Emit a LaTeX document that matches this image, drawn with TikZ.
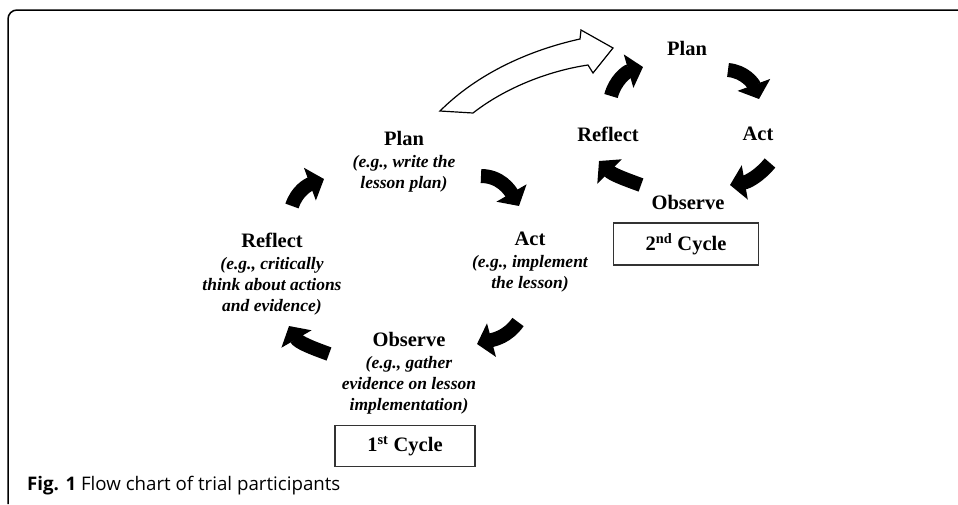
\documentclass[tikz,border=0pt]{standalone}
\usepackage{fontspec}
\setmainfont{Liberation Serif}
\newfontfamily\capfont{Open Sans}
\usetikzlibrary{arrows.meta}
\newcommand\exs{\fontsize{17.5}{21}\selectfont\bfseries\itshape}
\begin{document}
\begin{tikzpicture}[x=1pt,y=1pt,
  lbl/.style={align=center, inner sep=0pt, font=\fontsize{20.5}{21}\selectfont\bfseries},
  blk/.style={line width=14pt, -{Triangle[width=34pt,length=15pt]}},
  cycbox/.style={draw=black!80, line width=1.1pt, minimum width=140pt, minimum height=41pt, inner sep=0pt, font=\fontsize{20.5}{21}\selectfont\bfseries},
  hollow/.style={draw=black, line width=1.2pt, fill=white, line join=miter}
]
\useasboundingbox (0,0) rectangle (958,-504);
% frame
\draw[line width=1.5pt] (8,-504) -- (8,-19) arc[start angle=180,end angle=90,radius=9] -- (958,-10);

% first cycle labels
\node[lbl] (plan1) at (404,-162) {Plan\\[1pt]{\exs (e.g., write the}\\{\exs lesson plan)}};
\node[lbl] (act1) at (530,-262) {Act\\[1pt]{\exs (e.g., implement}\\{\exs the lesson)}};
\node[lbl] (obs1) at (409,-373) {Observe\\[1pt]{\exs (e.g., gather}\\{\exs evidence on lesson}\\{\exs implementation)}};
\node[lbl] (ref1) at (272,-274) {Reflect\\[1pt]{\exs (e.g., critically}\\{\exs think about actions}\\{\exs and evidence)}};
\node[cycbox] (cyc1) at (405,-446) {1\textsuperscript{st} Cycle};

% first cycle arrows
\draw[blk] (292,-206) to[out=72,in=200] (324,-179);
\draw[blk] (481,-176) to[out=0,in=120] (519,-206);
\draw[blk] (518,-322) to[out=235,in=15] (477,-344);
\draw[blk] (329,-354) to[out=160,in=300] (289,-326);

% second cycle labels
\node[lbl] (plan2) at (687,-48) {Plan};
\node[lbl] (ref2) at (608,-134) {Reflect};
\node[lbl] (act2) at (758,-134) {Act};
\node[lbl] (obs2) at (688,-202) {Observe};
\node[cycbox, minimum width=145pt, minimum height=42pt] (cyc2) at (686,-244) {2\textsuperscript{nd} Cycle};

% second cycle arrows
\draw[blk] (611,-96) to[out=75,in=196] (643,-67);
\draw[blk] (728,-70) to[out=-5,in=110] (759,-99);
\draw[blk] (770,-163) to[out=230,in=10] (730,-185);
\draw[blk] (641,-185) to[out=160,in=315] (599,-161);

% hollow transition arrow
\draw[hollow] (440,-111) .. controls (478,-73) and (530,-50) .. (580,-39)
  -- (581,-30) -- (613,-48) -- (593,-73) -- (588,-65)
  .. controls (548,-71) and (505,-88) .. (473,-113) -- cycle;

% caption
\node[anchor=base west, inner sep=0pt, font=\capfont\fontsize{18.7}{20}\selectfont] (cap) at (27,-490) {\textbf{Fig. 1} Flow chart of trial participants};
\end{tikzpicture}
\end{document}
